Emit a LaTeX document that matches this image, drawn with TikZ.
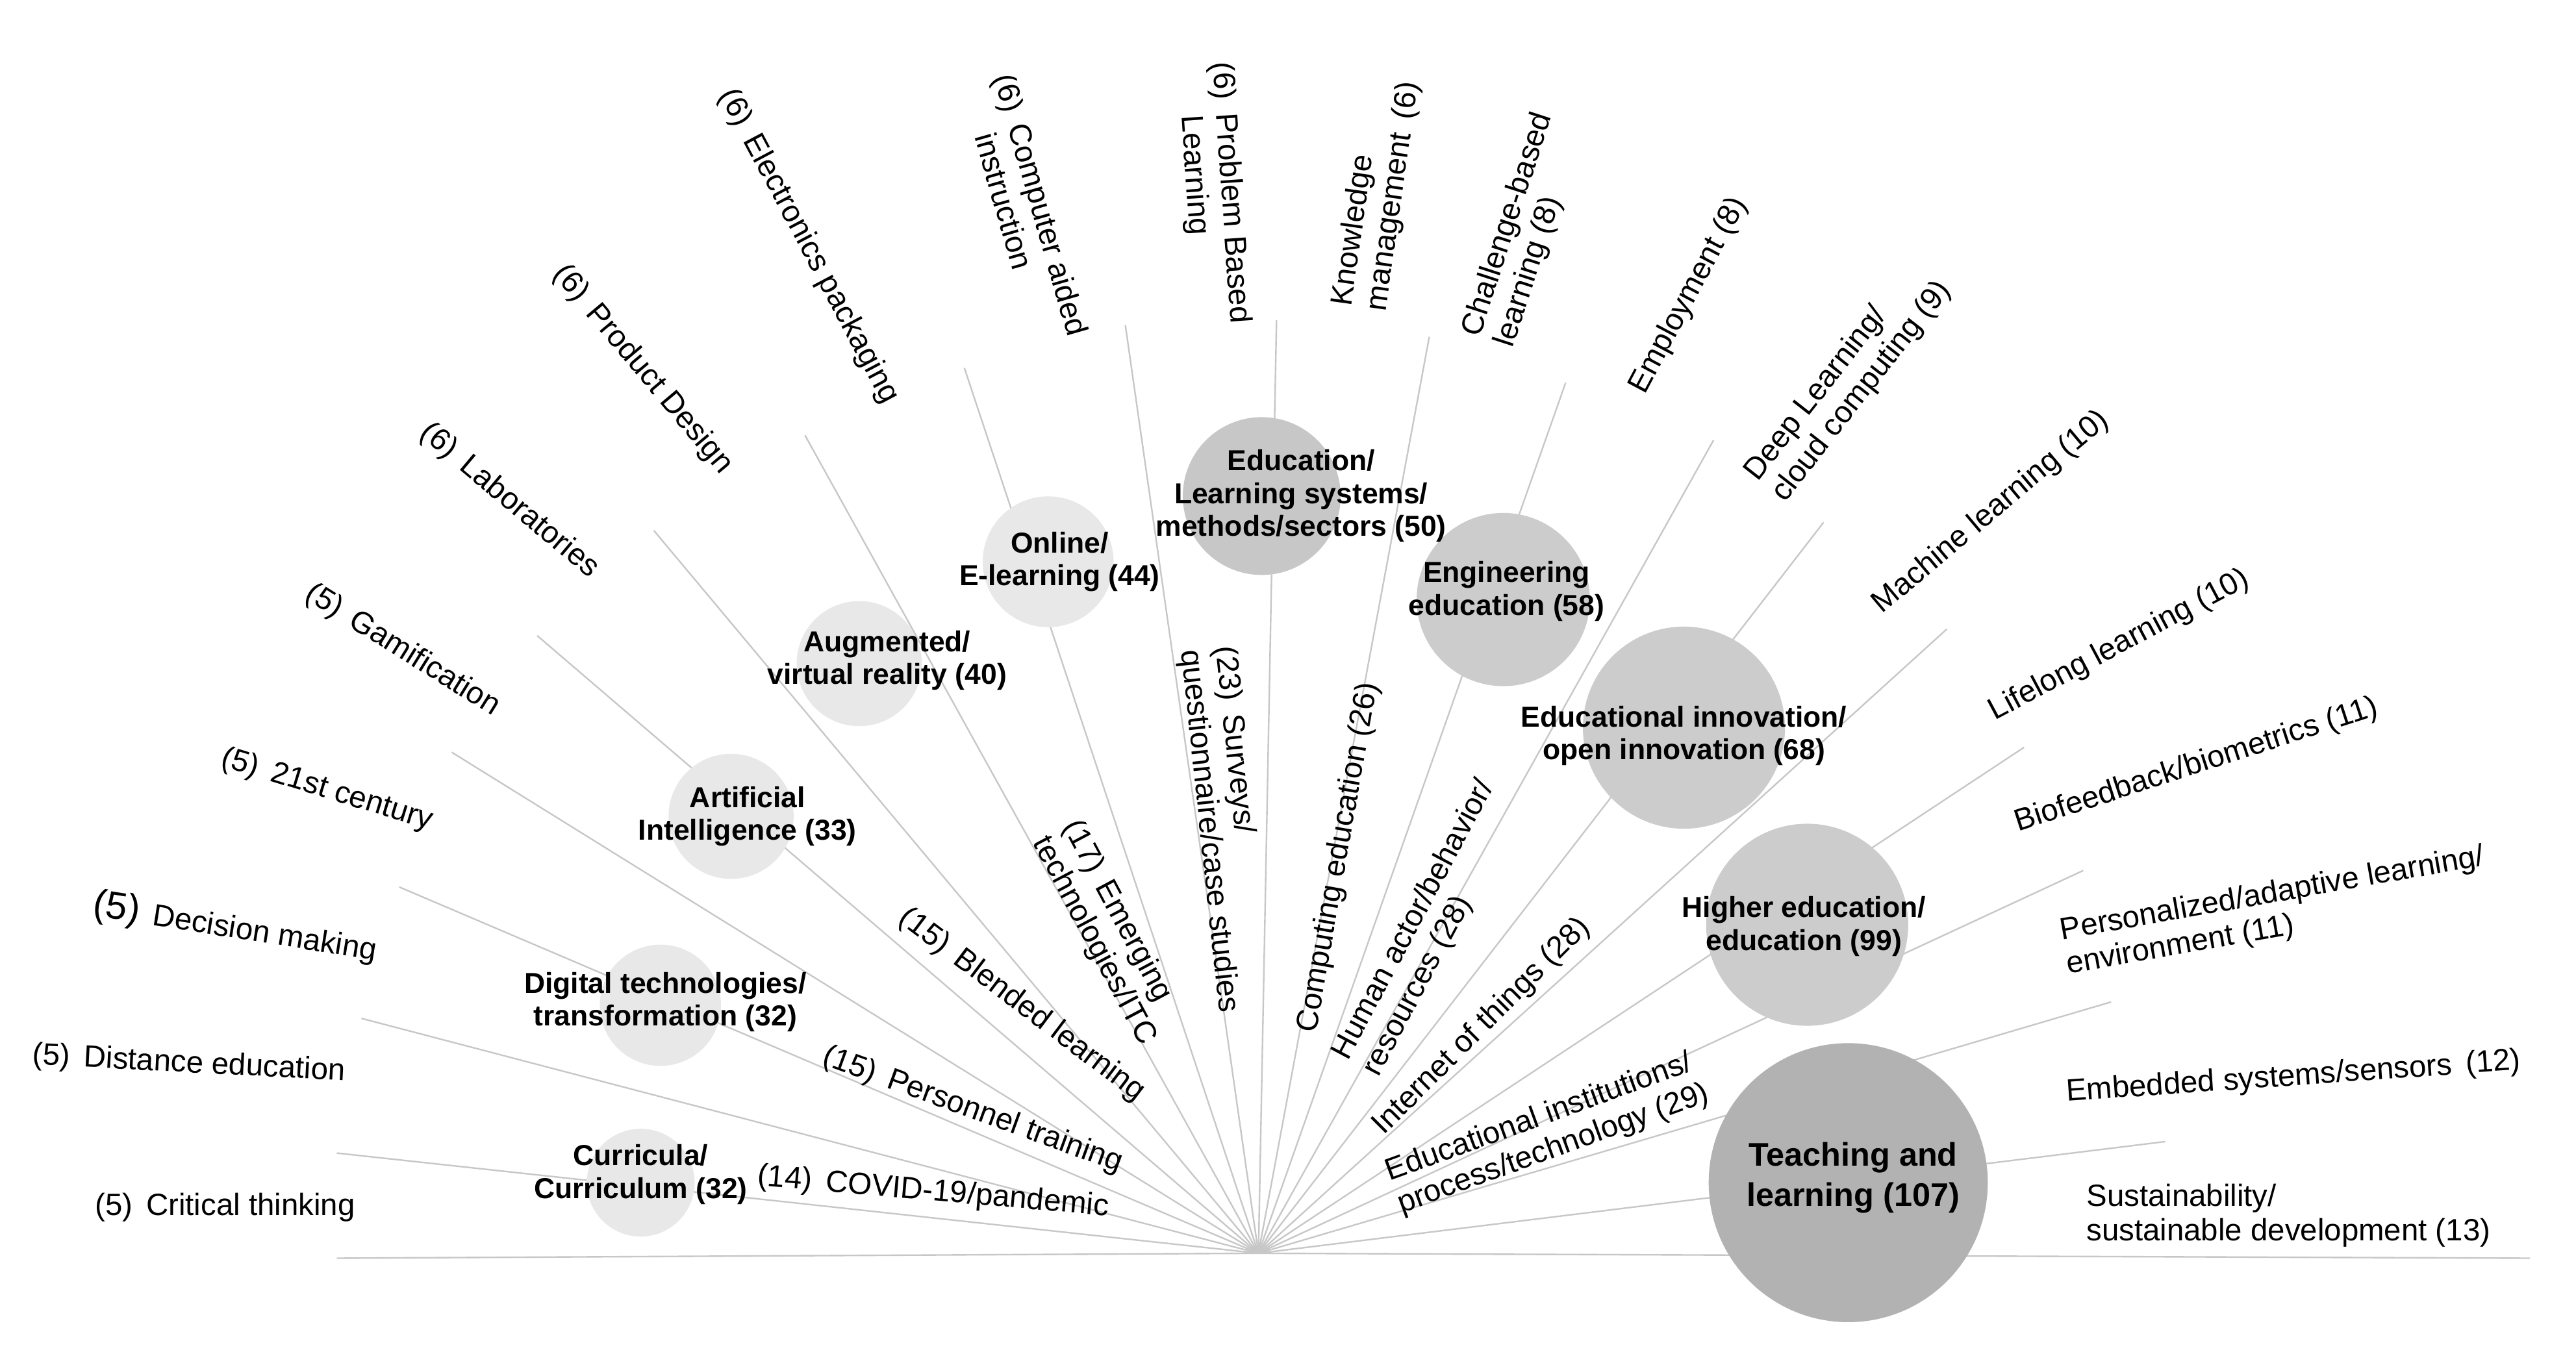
\documentclass[tikz,border=0pt]{standalone}
\usepackage{fontspec}
\setmainfont{Liberation Sans}
\begin{document}
\begin{tikzpicture}[x=0.3mm,y=-0.3mm,
  ray/.style={draw=black!22,line width=0.8pt},
  lab/.style={font=\fontsize{16}{18}\selectfont,inner sep=1pt,align=left},
  bub/.style={circle,draw=none,inner sep=0pt},
  btxt/.style={font=\fontsize{15}{17}\selectfont\bfseries,align=center,inner sep=0pt}]
\useasboundingbox[fill=white] (0,0) rectangle (1568,824);
\coordinate (c) at (766,763);
\foreach \n/\p in {L/{205,766},R/{1540,766},e1/{205,702},e2/{220,620},e3/{243,540},e4/{275,458},e5/{327,387},e6/{398,323},e7/{490,265},e8/{587,224},e9/{685,198},e10/{777,195},e11/{870,205},e12/{953,233},e13/{1043,268},e14/{1110,318},e15/{1185,383},e16/{1232,455},e17/{1268,530},e18/{1285,610},e19/{1318,695}}
  {\coordinate (\n) at (\p);}
\foreach \n in {L,R,e1,e2,e3,e4,e5,e6,e7,e8,e9,e10,e11,e12,e13,e14,e15,e16,e17,e18,e19}
  {\draw[ray] (c) -- (\n);}
% bubbles
\node[bub,fill=black!9,minimum size=56] (b1) at (390,720) {};
\node[bub,fill=black!9,minimum size=63] (b2) at (402,612) {};
\node[bub,fill=black!9,minimum size=65] (b3) at (445,497) {};
\node[bub,fill=black!9,minimum size=65] (b4) at (523,404) {};
\node[bub,fill=black!9,minimum size=68] (b5) at (638,342) {};
\node[bub,fill=black!22,minimum size=82] (b6) at (768,302) {};
\node[bub,fill=black!20,minimum size=90] (b7) at (915,365) {};
\node[bub,fill=black!20,minimum size=105] (b8) at (1025,443) {};
\node[bub,fill=black!20,minimum size=105] (b9) at (1100,563) {};
\node[bub,fill=black!30,minimum size=145] (b10) at (1125,720) {};
\node[btxt] at (390,715) {Curricula/\\Curriculum (32)};
\node[btxt] at (405,610) {Digital technologies/\\transformation (32)};
\node[btxt] at (455,497) {Artificial\\Intelligence (33)};
\node[btxt] at (540,402) {Augmented/\\virtual reality (40)};
\node[btxt] at (645,342) {Online/\\E-learning (44)};
\node[btxt] at (792,302) {Education/\\Learning systems/\\methods/sectors (50)};
\node[btxt] at (917,360) {Engineering\\education (58)};
\node[btxt] at (1025,448) {Educational innovation/\\open innovation (68)};
\node[btxt] at (1098,564) {Higher education/\\education (99)};
\node[btxt,font=\fontsize{17}{21}\selectfont\bfseries] at (1128,717) {Teaching and\\learning (107)};
% outer labels
\node[lab] (o1) at (137,735) {(5)\, Critical thinking};
\node[lab,rotate=-3] (o2) at (115,648) {(5)\, Distance education};
\node[lab,rotate=-9] (o3) at (143,565) {{\fontsize{20}{20}\selectfont(5)}\, Decision making};
\node[lab,rotate=-17] (o4) at (199,481) {(5)\, 21st century};
\node[lab,rotate=-32] (o5) at (245,396) {(5)\, Gamification};
\node[lab,rotate=-40] (o6) at (310,305) {(6)\, Laboratories};
\node[lab,rotate=-50] (o7) at (391,225) {(6)\, Product Design};
\node[lab,rotate=-62] (o8) at (492,150) {(6)\, Electronics packaging};
\node[lab,rotate=-74] (o9) at (622,128) {(6)\, Computer aided\\\phantom{(6)}\, instruction};
\node[lab,rotate=-86] (o10) at (738,118) {(6)\, Problem Based\\\phantom{(6)}\, Learning};
\node[lab,rotate=82] (o11) at (838,118) {Knowledge\\management\, (6)};
\node[lab,rotate=72] (o12) at (928,140) {Challenge-based\\learning (8)};
\node[lab,rotate=62] (o13) at (1028,180) {Employment (8)};
\node[lab,rotate=52] (o14) at (1125,232) {Deep Learning/\\cloud computing (9)};
\node[lab,rotate=40] (o15) at (1212,312) {Machine learning (10)};
\node[lab,rotate=28] (o16) at (1290,393) {Lifelong learning (10)};
\node[lab,rotate=18] (o17) at (1337,466) {Biofeedback/biometrics (11)};
\node[lab,rotate=10] (o18) at (1385,555) {Personalized/adaptive learning/\\environment (11)};
\node[lab,rotate=4] (o19) at (1396,656) {Embedded systems/sensors\, (12)};
\node[lab] (o20) at (1393,740) {Sustainability/\\sustainable development (13)};
% inner labels
\node[lab,rotate=-5] (i1) at (568,726) {(14)\, COVID-19/pandemic};
\node[lab,rotate=-20] (i2) at (592,676) {(15)\, Personnel training};
\node[lab,rotate=-37] (i3) at (622,612) {(15)\, Blended learning};
\node[lab,rotate=-62] (i4) at (675,568) {(17)\, Emerging\\technologies/ITC};
\node[lab,rotate=-84] (i5) at (746,505) {(23)\, Surveys/\\questionnaire/case studies};
\node[lab,rotate=80] (i6) at (815,522) {Computing education (26)};
\node[lab,rotate=62] (i7) at (870,565) {Human actor/behavior/\\resources (28)};
\node[lab,rotate=45] (i8) at (902,625) {Internet of things (28)};
\node[lab,rotate=20] (i9) at (942,690) {Educational institutions/\\process/technology (29)};
\end{tikzpicture}
\end{document}
